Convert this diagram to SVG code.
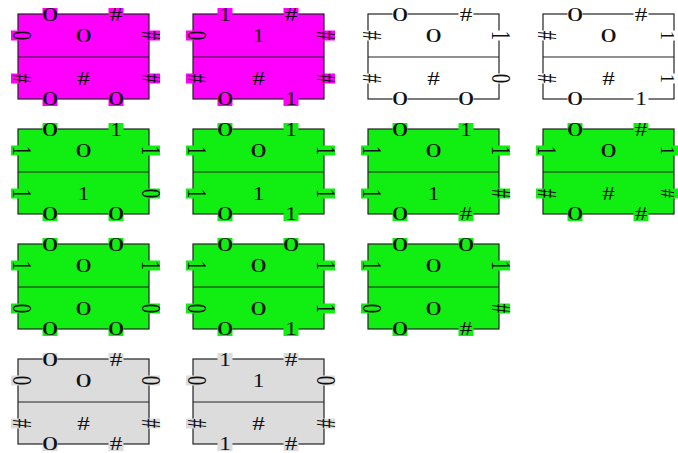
<svg xmlns="http://www.w3.org/2000/svg" xmlns:xlink="http://www.w3.org/1999/xlink" width="678" height="453" viewBox="0 0 678 453">
<style>
.fr{stroke:#222;stroke-width:1.2}
.dv{stroke:#222;stroke-width:1.2}
text{font-family:"Liberation Serif","Times New Roman",serif;font-size:18px;fill:#111;text-anchor:middle}
</style>
<defs>
<g id="tile">
<rect class="fr" x="0" y="0" width="131" height="85"/>
<line class="dv" x1="0" y1="43" x2="131" y2="43"/>
<rect x="24.5" y="-6" width="15" height="14"/>
<rect x="90.5" y="-6" width="15" height="14"/>
<rect x="24.5" y="78" width="15" height="14"/>
<rect x="90.5" y="78" width="15" height="14"/>
<rect x="-7" y="16.5" width="22" height="10"/>
<rect x="122" y="16.5" width="20" height="10"/>
<rect x="-7" y="59.5" width="22" height="10"/>
<rect x="122" y="59.5" width="20" height="10"/>
</g>
</defs>
<rect width="678" height="453" fill="#fff"/>

<g id="tile-r1c1" transform="translate(18,14)">
<use xlink:href="#tile" fill="#ff00ff"/>
<text transform="translate(32,7) scale(1.8,1)">0</text>
<text transform="translate(98,7) scale(1.4,1)">#</text>
<text transform="translate(65.5,27.5) scale(1.8,1)">0</text>
<text transform="translate(65.5,70.5) scale(1.4,1)">#</text>
<text transform="translate(32,91) scale(1.8,1)">0</text>
<text transform="translate(98,91) scale(1.8,1)">0</text>
<text transform="translate(4,21.5) scale(1.55,1.05) rotate(90)" y="6">0</text>
<text transform="translate(133,21.5) scale(1.55,1.05) rotate(90)" y="6">#</text>
<text transform="translate(4,64.5) scale(1.55,1.05) rotate(90)" y="6">#</text>
<text transform="translate(133,64.5) scale(1.55,1.05) rotate(90)" y="6">#</text>
</g>

<g id="tile-r1c2" transform="translate(193,14)">
<use xlink:href="#tile" fill="#ff00ff"/>
<text transform="translate(32,7) scale(1.3,1)">1</text>
<text transform="translate(98,7) scale(1.4,1)">#</text>
<text transform="translate(65.5,27.5) scale(1.3,1)">1</text>
<text transform="translate(65.5,70.5) scale(1.4,1)">#</text>
<text transform="translate(32,91) scale(1.8,1)">0</text>
<text transform="translate(98,91) scale(1.3,1)">1</text>
<text transform="translate(4,21.5) scale(1.55,1.05) rotate(90)" y="6">0</text>
<text transform="translate(133,21.5) scale(1.55,1.05) rotate(90)" y="6">#</text>
<text transform="translate(4,64.5) scale(1.55,1.05) rotate(90)" y="6">#</text>
<text transform="translate(133,64.5) scale(1.55,1.05) rotate(90)" y="6">#</text>
</g>

<g id="tile-r1c3" transform="translate(368,14)">
<use xlink:href="#tile" fill="#ffffff"/>
<text transform="translate(32,7) scale(1.8,1)">0</text>
<text transform="translate(98,7) scale(1.4,1)">#</text>
<text transform="translate(65.5,27.5) scale(1.8,1)">0</text>
<text transform="translate(65.5,70.5) scale(1.4,1)">#</text>
<text transform="translate(32,91) scale(1.8,1)">0</text>
<text transform="translate(98,91) scale(1.8,1)">0</text>
<text transform="translate(4,21.5) scale(1.55,1.05) rotate(90)" y="6">#</text>
<text transform="translate(133,21.5) scale(1.55,1.05) rotate(90)" y="6">1</text>
<text transform="translate(4,64.5) scale(1.55,1.05) rotate(90)" y="6">#</text>
<text transform="translate(133,64.5) scale(1.55,1.05) rotate(90)" y="6">0</text>
</g>

<g id="tile-r1c4" transform="translate(543,14)">
<use xlink:href="#tile" fill="#ffffff"/>
<text transform="translate(32,7) scale(1.8,1)">0</text>
<text transform="translate(98,7) scale(1.4,1)">#</text>
<text transform="translate(65.5,27.5) scale(1.8,1)">0</text>
<text transform="translate(65.5,70.5) scale(1.4,1)">#</text>
<text transform="translate(32,91) scale(1.8,1)">0</text>
<text transform="translate(98,91) scale(1.3,1)">1</text>
<text transform="translate(4,21.5) scale(1.55,1.05) rotate(90)" y="6">#</text>
<text transform="translate(124,21.5) scale(1,1.05) rotate(90)" y="6">1</text>
<text transform="translate(4,64.5) scale(1.55,1.05) rotate(90)" y="6">#</text>
<text transform="translate(124,64.5) scale(1,1.05) rotate(90)" y="6">1</text>
</g>

<g id="tile-r2c1" transform="translate(18,129)">
<use xlink:href="#tile" fill="#11ee11"/>
<text transform="translate(32,7) scale(1.8,1)">0</text>
<text transform="translate(98,7) scale(1.3,1)">1</text>
<text transform="translate(65.5,27.5) scale(1.8,1)">0</text>
<text transform="translate(65.5,70.5) scale(1.3,1)">1</text>
<text transform="translate(32,91) scale(1.8,1)">0</text>
<text transform="translate(98,91) scale(1.8,1)">0</text>
<text transform="translate(4,21.5) scale(1.55,1.05) rotate(90)" y="6">1</text>
<text transform="translate(133,21.5) scale(1.55,1.05) rotate(90)" y="6">1</text>
<text transform="translate(4,64.5) scale(1.55,1.05) rotate(90)" y="6">1</text>
<text transform="translate(133,64.5) scale(1.55,1.05) rotate(90)" y="6">0</text>
</g>

<g id="tile-r2c2" transform="translate(193,129)">
<use xlink:href="#tile" fill="#11ee11"/>
<text transform="translate(32,7) scale(1.8,1)">0</text>
<text transform="translate(98,7) scale(1.3,1)">1</text>
<text transform="translate(65.5,27.5) scale(1.8,1)">0</text>
<text transform="translate(65.5,70.5) scale(1.3,1)">1</text>
<text transform="translate(32,91) scale(1.8,1)">0</text>
<text transform="translate(98,91) scale(1.3,1)">1</text>
<text transform="translate(4,21.5) scale(1.55,1.05) rotate(90)" y="6">1</text>
<text transform="translate(133,21.5) scale(1.55,1.05) rotate(90)" y="6">1</text>
<text transform="translate(4,64.5) scale(1.55,1.05) rotate(90)" y="6">1</text>
<text transform="translate(133,64.5) scale(1.55,1.05) rotate(90)" y="6">1</text>
</g>

<g id="tile-r2c3" transform="translate(368,129)">
<use xlink:href="#tile" fill="#11ee11"/>
<text transform="translate(32,7) scale(1.8,1)">0</text>
<text transform="translate(98,7) scale(1.3,1)">1</text>
<text transform="translate(65.5,27.5) scale(1.8,1)">0</text>
<text transform="translate(65.5,70.5) scale(1.3,1)">1</text>
<text transform="translate(32,91) scale(1.8,1)">0</text>
<text transform="translate(98,91) scale(1.4,1)">#</text>
<text transform="translate(4,21.5) scale(1.55,1.05) rotate(90)" y="6">1</text>
<text transform="translate(133,21.5) scale(1.55,1.05) rotate(90)" y="6">1</text>
<text transform="translate(4,64.5) scale(1.55,1.05) rotate(90)" y="6">1</text>
<text transform="translate(133,64.5) scale(1.55,1.05) rotate(90)" y="6">#</text>
</g>

<g id="tile-r2c4" transform="translate(543,129)">
<use xlink:href="#tile" fill="#11ee11"/>
<text transform="translate(32,7) scale(1.8,1)">0</text>
<text transform="translate(98,7) scale(1.4,1)">#</text>
<text transform="translate(65.5,27.5) scale(1.8,1)">0</text>
<text transform="translate(65.5,70.5) scale(1.4,1)">#</text>
<text transform="translate(32,91) scale(1.8,1)">0</text>
<text transform="translate(98,91) scale(1.4,1)">#</text>
<text transform="translate(4,21.5) scale(1.55,1.05) rotate(90)" y="6">1</text>
<text transform="translate(124,21.5) scale(1,1.05) rotate(90)" y="6">1</text>
<text transform="translate(4,64.5) scale(1.55,1.05) rotate(90)" y="6">#</text>
<text transform="translate(124,64.5) scale(1,1.05) rotate(90)" y="6">#</text>
</g>

<g id="tile-r3c1" transform="translate(18,244)">
<use xlink:href="#tile" fill="#11ee11"/>
<text transform="translate(32,7) scale(1.8,1)">0</text>
<text transform="translate(98,7) scale(1.8,1)">0</text>
<text transform="translate(65.5,27.5) scale(1.8,1)">0</text>
<text transform="translate(65.5,70.5) scale(1.8,1)">0</text>
<text transform="translate(32,91) scale(1.8,1)">0</text>
<text transform="translate(98,91) scale(1.8,1)">0</text>
<text transform="translate(4,21.5) scale(1.55,1.05) rotate(90)" y="6">1</text>
<text transform="translate(133,21.5) scale(1.55,1.05) rotate(90)" y="6">1</text>
<text transform="translate(4,64.5) scale(1.55,1.05) rotate(90)" y="6">0</text>
<text transform="translate(133,64.5) scale(1.55,1.05) rotate(90)" y="6">0</text>
</g>

<g id="tile-r3c2" transform="translate(193,244)">
<use xlink:href="#tile" fill="#11ee11"/>
<text transform="translate(32,7) scale(1.8,1)">0</text>
<text transform="translate(98,7) scale(1.8,1)">0</text>
<text transform="translate(65.5,27.5) scale(1.8,1)">0</text>
<text transform="translate(65.5,70.5) scale(1.8,1)">0</text>
<text transform="translate(32,91) scale(1.8,1)">0</text>
<text transform="translate(98,91) scale(1.3,1)">1</text>
<text transform="translate(4,21.5) scale(1.55,1.05) rotate(90)" y="6">1</text>
<text transform="translate(133,21.5) scale(1.55,1.05) rotate(90)" y="6">1</text>
<text transform="translate(4,64.5) scale(1.55,1.05) rotate(90)" y="6">0</text>
<text transform="translate(133,64.5) scale(1.55,1.05) rotate(90)" y="6">1</text>
</g>

<g id="tile-r3c3" transform="translate(368,244)">
<use xlink:href="#tile" fill="#11ee11"/>
<text transform="translate(32,7) scale(1.8,1)">0</text>
<text transform="translate(98,7) scale(1.8,1)">0</text>
<text transform="translate(65.5,27.5) scale(1.8,1)">0</text>
<text transform="translate(65.5,70.5) scale(1.8,1)">0</text>
<text transform="translate(32,91) scale(1.8,1)">0</text>
<text transform="translate(98,91) scale(1.4,1)">#</text>
<text transform="translate(4,21.5) scale(1.55,1.05) rotate(90)" y="6">1</text>
<text transform="translate(133,21.5) scale(1.55,1.05) rotate(90)" y="6">1</text>
<text transform="translate(4,64.5) scale(1.55,1.05) rotate(90)" y="6">0</text>
<text transform="translate(133,64.5) scale(1.55,1.05) rotate(90)" y="6">#</text>
</g>

<g id="tile-r4c1" transform="translate(18,359)">
<use xlink:href="#tile" fill="#dcdcdc"/>
<text transform="translate(32,7) scale(1.8,1)">0</text>
<text transform="translate(98,7) scale(1.4,1)">#</text>
<text transform="translate(65.5,27.5) scale(1.8,1)">0</text>
<text transform="translate(65.5,70.5) scale(1.4,1)">#</text>
<text transform="translate(32,91) scale(1.8,1)">0</text>
<text transform="translate(98,91) scale(1.4,1)">#</text>
<text transform="translate(4,21.5) scale(1.55,1.05) rotate(90)" y="6">0</text>
<text transform="translate(133,21.5) scale(1.55,1.05) rotate(90)" y="6">0</text>
<text transform="translate(4,64.5) scale(1.55,1.05) rotate(90)" y="6">#</text>
<text transform="translate(133,64.5) scale(1.55,1.05) rotate(90)" y="6">#</text>
</g>

<g id="tile-r4c2" transform="translate(193,359)">
<use xlink:href="#tile" fill="#dcdcdc"/>
<text transform="translate(32,7) scale(1.3,1)">1</text>
<text transform="translate(98,7) scale(1.4,1)">#</text>
<text transform="translate(65.5,27.5) scale(1.3,1)">1</text>
<text transform="translate(65.5,70.5) scale(1.4,1)">#</text>
<text transform="translate(32,91) scale(1.3,1)">1</text>
<text transform="translate(98,91) scale(1.4,1)">#</text>
<text transform="translate(4,21.5) scale(1.55,1.05) rotate(90)" y="6">0</text>
<text transform="translate(133,21.5) scale(1.55,1.05) rotate(90)" y="6">0</text>
<text transform="translate(4,64.5) scale(1.55,1.05) rotate(90)" y="6">#</text>
<text transform="translate(133,64.5) scale(1.55,1.05) rotate(90)" y="6">#</text>
</g>

<g id="connectors"/>
</svg>
